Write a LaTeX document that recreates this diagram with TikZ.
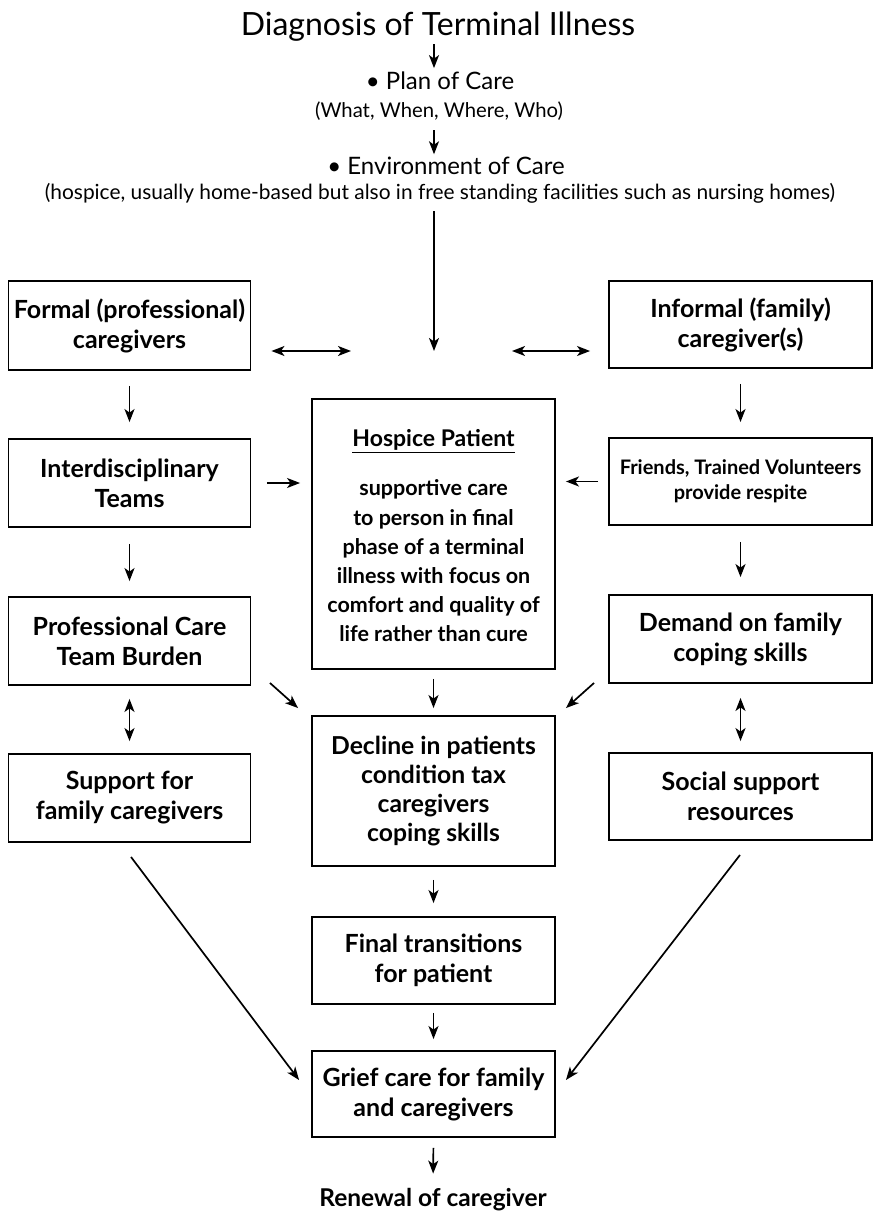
\documentclass[tikz,border=0pt]{standalone}
\usepackage{fontspec}
\setmainfont{Lato}
\usetikzlibrary{arrows.meta,calc}
\newcommand{\bxfont}{\fontsize{25}{30}\selectfont\bfseries}
\newcommand{\smfont}{\fontsize{20}{25}\selectfont\bfseries}
\newcommand{\hpfont}{\fontsize{21.5}{29.2}\selectfont\bfseries}
\begin{document}
\begin{tikzpicture}[x=1pt,y=-1pt,
  box/.style={draw, line width=1.9pt, inner sep=0pt, align=center, font=\bxfont},
  lbox/.style={box, minimum width=242pt, minimum height=88pt},
  rbox/.style={box, minimum width=263pt, minimum height=87pt},
  cbox/.style={box, minimum width=243pt},
  txt/.style={inner sep=0pt, align=center},
  tip/.tip={Stealth[length=13pt,width=10pt,inset=3.5pt]},
  arr/.style={-tip, line width=1.7pt},
  darr/.style={tip-tip, line width=1.7pt}]
\useasboundingbox (0,0) rectangle (874,1214);
% top texts
\node[txt, anchor=base, font=\fontsize{32}{36}\selectfont] (title) at (438,36) {Diagnosis of Terminal Illness};
\node[txt, anchor=base, font=\fontsize{24}{28}\selectfont] (plan) at (440,90) {• Plan of Care};
\node[txt, anchor=base, font=\fontsize{20.3}{24}\selectfont] (what) at (439,118) {(What, When, Where, Who)};
\node[txt, anchor=base, font=\fontsize{24}{28}\selectfont] (env) at (446,175) {• Environment of Care};
\node[txt, anchor=base, font=\fontsize{20.9}{24}\selectfont] (envd) at (440,200) {(hospice, usually home-based but also in free standing facilities such as nursing homes)};
\coordinate (meet) at (434,351);
% boxes
\node[lbox, minimum height=89pt] (formal) at (129.5,325.5) {Formal (professional)\\caregivers};
\node[rbox] (informal) at (740.5,324.5) {Informal (family)\\caregiver(s)};
\node[lbox] (inter) at (129.5,483) {Interdisciplinary\\Teams};
\node[rbox, font=\smfont] (friends) at (740.5,481.5) {Friends, Trained Volunteers\\provide respite};
\node[lbox] (prof) at (129.5,641) {Professional Care\\Team Burden};
\node[rbox, minimum height=88pt] (demand) at (740.5,639) {Demand on family\\coping skills};
\node[lbox] (support) at (129.5,798) {Support for\\family caregivers};
\node[rbox] (social) at (740.5,796.5) {Social support\\resources};
\node[cbox, minimum height=270pt] (hosp) at (433.5,534) {};
\node[txt, font=\fontsize{23}{26}\selectfont\bfseries] (hosptitle) at (433.5,441) {\underline{Hospice Patient}};
\node[txt, font=\hpfont] (hospbody) at (433.5,561) {supportive care\\to person in final\\phase of a terminal\\illness with focus on\\comfort and quality of\\life rather than cure};
\node[cbox, minimum height=150pt, font=\fontsize{24.7}{29.3}\selectfont\bfseries] (decline) at (433.5,791) {Decline in patients\\condition tax\\caregivers\\coping skills};
\node[cbox, minimum height=87pt] (final) at (433.5,960.5) {Final transitions\\for patient};
\node[cbox, minimum height=86pt] (grief) at (433.5,1094) {Grief care for family\\and caregivers};
\node[txt, anchor=base, font=\fontsize{24.5}{28}\selectfont\bfseries] (renewal) at (433,1206) {Renewal of caregiver};
% arrows top
\draw[arr, shorten <=2pt, shorten >=4pt] (title.south -| meet) -- (plan.north -| meet);
\draw[arr, shorten <=9pt, shorten >=3pt] (what.south -| meet) -- (env.north -| meet);
\draw[arr, shorten <=7pt] (envd.south -| meet) -- (meet);
\draw[darr, shorten <=20pt, shorten >=83pt] (formal.east |- meet) -- (meet);
\draw[darr, shorten <=18pt, shorten >=78pt] (informal.west |- meet) -- (meet);
% vertical arrows
\draw[arr, shorten <=15pt, shorten >=16pt] (formal.south) -- (inter.north);
\draw[arr, shorten <=15pt, shorten >=15pt] (informal.south) -- (friends.north);
\draw[arr, shorten <=16pt, shorten >=15pt] (inter.south) -- (prof.north);
\draw[arr, shorten <=16pt, shorten >=17pt] (friends.south) -- (demand.north);
\draw[arr, shorten <=15.5pt, shorten >=11pt] (inter.east) -- (inter.east -| hosp.west);
\draw[arr, shorten <=10pt, shorten >=10pt] (friends.west) -- (friends.west -| hosp.east);
\draw[darr, shorten <=13pt, shorten >=12pt] (prof.south) -- (support.north);
\draw[darr, shorten <=14pt, shorten >=11pt] (demand.south) -- (social.north);
\draw[arr] ($(prof.south east)+(18.5,-3)$) -- ($(decline.north west)+(-13,-7)$);
\draw[arr, shorten <=9pt, shorten >=7pt] (hosp.south) -- (decline.north);
\draw[arr] ($(demand.south west)+(-14,-1)$) -- ($(decline.north east)+(10,-7)$);
\draw[arr, shorten <=13pt, shorten >=13pt] (decline.south) -- (final.north);
\draw[arr, shorten <=8pt, shorten >=11pt] (final.south) -- (grief.north);
\draw[arr, shorten <=10pt, shorten >=14pt] (grief.south) -- (renewal.north);
\draw[arr] ($(support.south)+(1.5,14)$) -- ($(grief.west)+(-12,-14)$);
\draw[arr] ($(social.south)+(-0.5,14)$) -- ($(grief.east)+(10,-14)$);
\end{tikzpicture}
\end{document}
